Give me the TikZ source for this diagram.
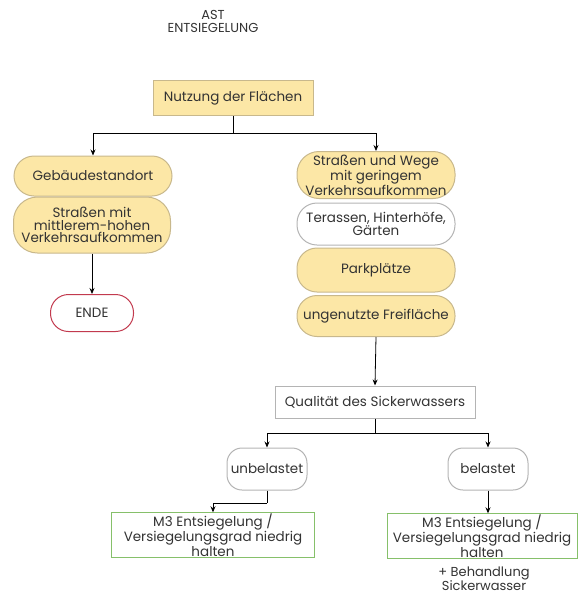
\documentclass[tikz,border=0pt]{standalone}
\usepackage{fontspec}
\setmainfont{Poppins}
\usetikzlibrary{arrows.meta}
\definecolor{yel}{HTML}{FCE7A6}
\definecolor{tan}{HTML}{C8B88C}
\definecolor{redb}{HTML}{C23A4E}
\definecolor{grnb}{HTML}{86C06A}
\definecolor{gryb}{HTML}{B4B4B4}
\definecolor{txt}{HTML}{333333}
\begin{document}
\begin{tikzpicture}[x=1pt,y=-1pt,
  base/.style={draw, line width=1pt, text=txt, align=center, inner sep=1pt,
    font=\fontsize{13.5}{12.5}\selectfont},
  yelpill/.style={base, fill=yel, draw=tan, minimum width=158pt, rounded corners=20pt},
  whtpill/.style={base, fill=white, draw=gryb, minimum width=158pt, rounded corners=20pt},
  arr/.style={-{Stealth[length=6pt,width=5pt]}, line width=0.8pt},
  ln/.style={line width=0.8pt}]
\useasboundingbox (0,0) rectangle (580,595);
\node[text=txt, align=center, font=\fontsize{13}{13}\selectfont] (title) at (213,21) {AST\\ENTSIEGELUNG};
\node[base, fill=yel, draw=tan, minimum width=160pt, minimum height=35pt] (nutz) at (233,98) {Nutzung der Flächen};
\node[yelpill, minimum height=40pt] (geb) at (93,176) {Gebäudestandort};
\node[yelpill, minimum height=56pt, minimum width=157pt, rounded corners=24pt] (smh) at (92,225) {Straßen mit\\mittlerem-hohen\\Verkehrsaufkommen};
\node[base, fill=white, draw=redb, minimum width=83pt, minimum height=37pt, rounded corners=18pt] (ende) at (92,313) {ENDE};
\node[yelpill, minimum height=47pt, rounded corners=22pt] (sw) at (376,175) {Straßen und Wege\\mit geringem\\Verkehrsaufkommen};
\node[whtpill, minimum height=42pt] (ter) at (376,224) {Terassen, Hinterhöfe,\\Gärten};
\node[yelpill, minimum height=44pt] (park) at (376,270) {Parkplätze};
\node[yelpill, minimum height=41pt] (frei) at (376,316) {ungenutzte Freifläche};
\node[base, fill=white, draw=gryb, minimum width=200pt, minimum height=32pt] (qual) at (375,402) {Qualität des Sickerwassers};
\node[base, fill=white, draw=gryb, minimum width=80pt, minimum height=42pt, rounded corners=15pt] (unb) at (267,469) {unbelastet};
\node[base, fill=white, draw=gryb, minimum width=80pt, minimum height=42pt, rounded corners=15pt] (bel) at (488,469) {belastet};
\node[base, fill=white, draw=grnb, minimum width=203pt, minimum height=43pt] (m3a) at (213,535) {M3 Entsiegelung /\\Versiegelungsgrad niedrig\\halten};
\node[base, fill=white, draw=grnb, minimum width=190pt, minimum height=43pt] (m3b) at (482,536) {M3 Entsiegelung /\\Versiegelungsgrad niedrig\\halten};
\node[text=txt, align=center, font=\fontsize{13}{12}\selectfont, anchor=north] (beh) at (484,563) {+ Behandlung\\Sickerwasser};
\coordinate (j1) at (233,133);
\coordinate (j2) at (375,433);
\coordinate (j3) at (267,503);
\draw[ln] (nutz.south) -- (j1);
\draw[arr] (j1) -| (geb.north);
\draw[arr] (j1) -| (sw.north);
\draw[arr] (smh.south) -- (ende.north);
\draw[arr] (frei.south) -- (qual.north);
\draw[ln] (qual.south) -- (j2);
\draw[arr] (j2) -| (unb.north);
\draw[arr] (j2) -| (bel.north);
\draw[ln] (unb.south) -- (j3);
\draw[arr] (j3) -| (m3a.north);
\draw[arr] (bel.south) -- (bel.south |- m3b.north);
\end{tikzpicture}
\end{document}
